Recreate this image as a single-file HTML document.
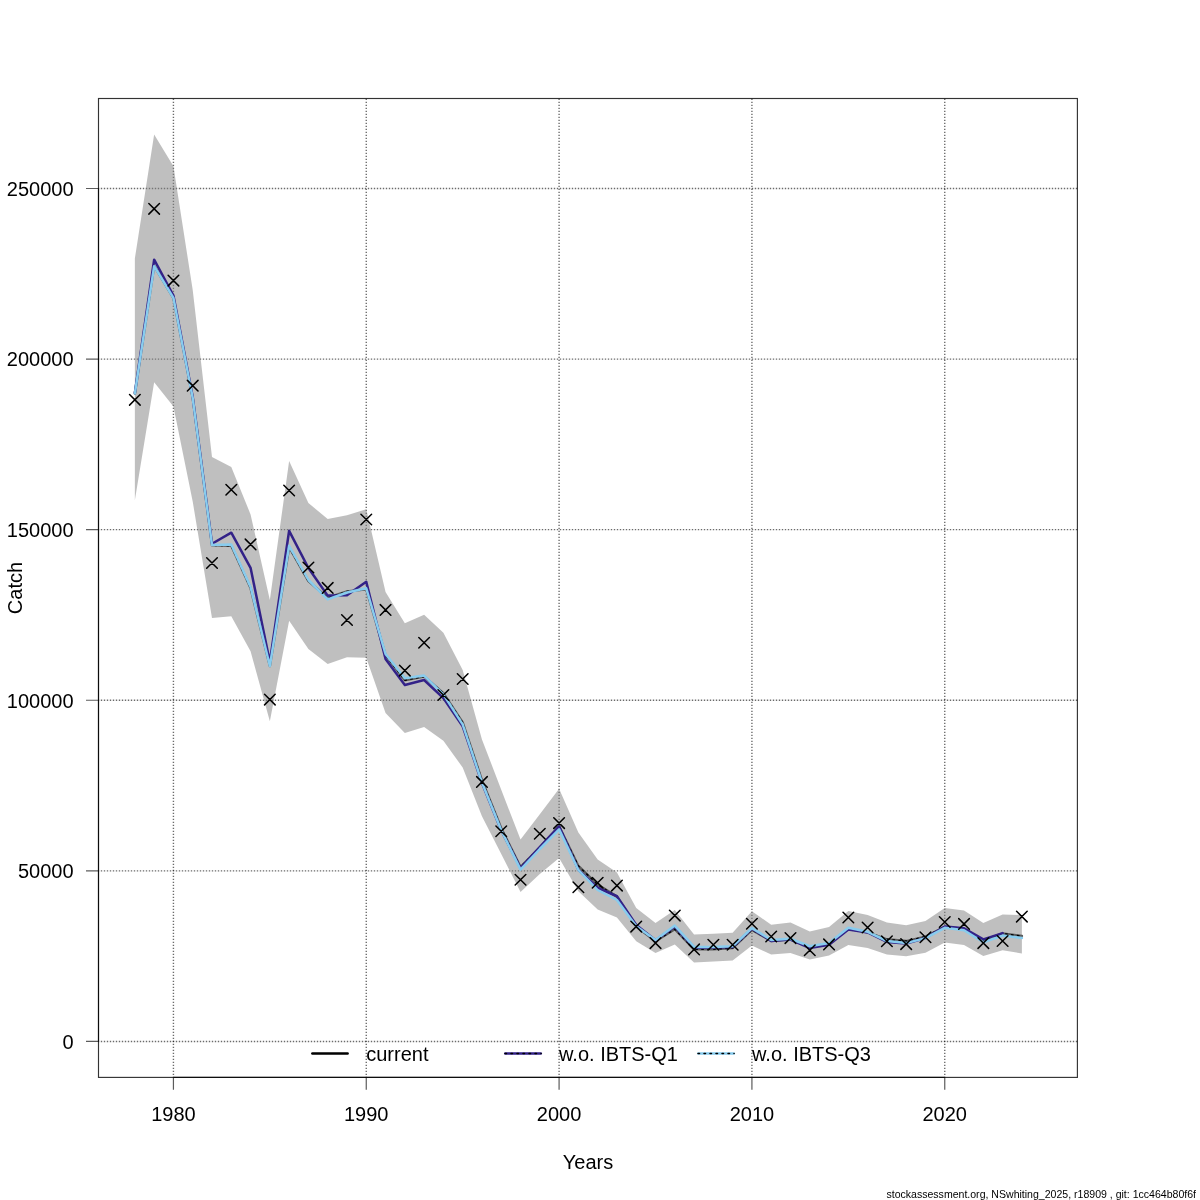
<!DOCTYPE html>
<html><head><meta charset="utf-8"><title>Catch</title>
<style>
html,body{margin:0;padding:0;background:#fff;}
svg{display:block;position:absolute;left:0;top:0;will-change:transform;}
text{font-family:"Liberation Sans",sans-serif;font-size:20px;fill:#000;}
.ft{font-size:10.55px;}
.g{stroke:#000;stroke-opacity:0.58;stroke-width:1.4;stroke-dasharray:1.4 1.6;stroke-dashoffset:0.7;fill:none;}
.ln{fill:none;stroke-width:2.5;stroke-linecap:round;stroke-linejoin:round;}
.ld{fill:none;stroke:#000;stroke-width:1.5;stroke-dasharray:1.5 4.5;stroke-linecap:round;stroke-linejoin:round;}
.cr{fill:none;stroke:#000;stroke-width:1.5;stroke-linecap:round;}
.bx{fill:none;stroke:#000;stroke-opacity:0.8;stroke-width:1.15;}
.tk{fill:none;stroke:#000;stroke-opacity:0.64;stroke-width:1.2;}
.ax{fill:none;stroke:#000;stroke-opacity:0.75;stroke-width:1.15;}
</style></head><body>
<svg width="1200" height="1200" viewBox="0 0 1200 1200">
<rect width="1200" height="1200" fill="#fff"/>
<line x1="173.43" y1="1077.4" x2="173.43" y2="98.5" class="g"/>
<line x1="366.26" y1="1077.4" x2="366.26" y2="98.5" class="g"/>
<line x1="559.09" y1="1077.4" x2="559.09" y2="98.5" class="g"/>
<line x1="751.92" y1="1077.4" x2="751.92" y2="98.5" class="g"/>
<line x1="944.75" y1="1077.4" x2="944.75" y2="98.5" class="g"/>
<line x1="98.5" y1="1041.43" x2="1077.4" y2="1041.43" class="g"/>
<line x1="98.5" y1="870.84" x2="1077.4" y2="870.84" class="g"/>
<line x1="98.5" y1="700.26" x2="1077.4" y2="700.26" class="g"/>
<line x1="98.5" y1="529.67" x2="1077.4" y2="529.67" class="g"/>
<line x1="98.5" y1="359.09" x2="1077.4" y2="359.09" class="g"/>
<line x1="98.5" y1="188.50" x2="1077.4" y2="188.50" class="g"/>
<polygon points="134.86,258.50 154.15,134.40 173.43,166.25 192.71,290.00 212.00,457.00 231.28,467.00 250.56,514.40 269.85,600.00 289.13,461.00 308.41,503.10 327.69,518.90 346.98,515.25 366.26,509.20 385.54,591.90 404.83,623.20 424.11,614.70 443.39,632.80 462.68,670.00 481.96,739.40 501.24,789.75 520.52,839.60 539.81,814.20 559.09,788.75 578.37,832.50 597.66,859.40 616.94,872.50 636.22,908.10 655.51,923.10 674.79,910.00 694.07,934.40 713.35,933.75 732.64,932.75 751.92,911.25 771.20,924.75 790.49,922.50 809.77,931.50 829.05,926.90 848.34,911.00 867.62,915.00 886.90,922.50 906.18,925.25 925.47,920.90 944.75,907.90 964.03,910.60 983.32,923.10 1002.60,914.40 1021.88,915.00 1021.88,953.50 1002.60,950.25 983.32,956.00 964.03,945.00 944.75,942.60 925.47,952.75 906.18,956.25 886.90,954.40 867.62,948.10 848.34,945.10 829.05,955.60 809.77,959.60 790.49,953.10 771.20,954.60 751.92,945.60 732.64,960.50 713.35,961.50 694.07,962.50 674.79,944.40 655.51,953.10 636.22,941.25 616.94,917.50 597.66,909.40 578.37,891.25 559.09,858.10 539.81,874.00 520.52,892.00 501.24,854.00 481.96,816.25 462.68,767.50 443.39,740.80 424.11,727.10 404.83,733.10 385.54,713.00 366.26,657.70 346.98,657.20 327.69,664.00 308.41,649.00 289.13,620.80 269.85,721.25 250.56,651.25 231.28,616.25 212.00,618.00 192.71,501.50 173.43,406.50 154.15,382.20 134.86,500.30" fill="#7f7f7f" fill-opacity="0.5"/>
<polyline points="134.86,393.50 154.15,265.90 173.43,298.00 192.71,398.00 212.00,545.30 231.28,545.80 250.56,588.10 269.85,666.00 289.13,547.20 308.41,581.10 327.69,597.80 346.98,591.50 366.26,589.20 385.54,655.10 404.83,680.30 424.11,676.40 443.39,693.10 462.68,722.50 481.96,780.30 501.24,828.30 520.52,867.10 539.81,847.30 559.09,826.40 578.37,866.00 597.66,884.60 616.94,896.60 636.22,926.55 655.51,941.20 674.79,929.20 694.07,949.30 713.35,949.20 732.64,948.00 751.92,929.80 771.20,941.00 790.49,939.35 809.77,947.05 829.05,943.60 848.34,928.80 867.62,932.30 886.90,939.30 906.18,941.10 925.47,936.60 944.75,926.80 964.03,928.95 983.32,940.50 1002.60,933.50 1021.88,936.10" class="ln" stroke="#5c5c5c"/>
<polyline points="134.86,393.50 154.15,265.90 173.43,298.00 192.71,398.00 212.00,545.30 231.28,545.80 250.56,588.10 269.85,666.00 289.13,547.20 308.41,581.10 327.69,597.80 346.98,591.50 366.26,589.20 385.54,655.10 404.83,680.30 424.11,676.40 443.39,693.10 462.68,722.50 481.96,780.30 501.24,828.30 520.52,867.10 539.81,847.30 559.09,826.40 578.37,866.00 597.66,884.60 616.94,896.60 636.22,926.55 655.51,941.20 674.79,929.20 694.07,949.30 713.35,949.20 732.64,948.00 751.92,929.80 771.20,941.00 790.49,939.35 809.77,947.05 829.05,943.60 848.34,928.80 867.62,932.30 886.90,939.30 906.18,941.10 925.47,936.60 944.75,926.80 964.03,928.95 983.32,940.50 1002.60,933.50 1021.88,936.10" class="ld"/>
<polyline points="134.86,393.00 154.15,259.70 173.43,295.50 192.71,397.00 212.00,543.75 231.28,532.70 250.56,567.80 269.85,662.00 289.13,530.80 308.41,568.00 327.69,595.60 346.98,595.25 366.26,581.80 385.54,659.00 404.83,685.00 424.11,680.00 443.39,698.10 462.68,726.25 481.96,783.00 501.24,830.50 520.52,868.00 539.81,847.00 559.09,826.30 578.37,869.80 597.66,887.75 616.94,896.25 636.22,925.00 655.51,940.30 674.79,926.60 694.07,947.70 713.35,947.50 732.64,947.00 751.92,928.60 771.20,941.00 790.49,939.50 809.77,948.00 829.05,944.75 848.34,929.40 867.62,932.50 886.90,942.00 906.18,943.50 925.47,938.00 944.75,926.50 964.03,928.30 983.32,939.40 1002.60,933.10" class="ln" stroke="#332288"/>
<polyline points="134.86,393.50 154.15,266.20 173.43,298.00 192.71,398.00 212.00,545.00 231.28,544.50 250.56,587.00 269.85,666.00 289.13,545.80 308.41,580.00 327.69,599.40 346.98,592.50 366.26,588.30 385.54,654.00 404.83,678.30 424.11,675.60 443.39,694.40 462.68,724.40 481.96,782.50 501.24,830.30 520.52,869.60 539.81,849.00 559.09,829.40 578.37,870.00 597.66,890.00 616.94,900.00 636.22,926.25 655.51,940.00 674.79,925.60 694.07,946.90 713.35,946.90 732.64,946.25 751.92,928.10 771.20,940.00 790.49,938.75 809.77,946.25 829.05,943.10 848.34,927.80 867.62,931.80 886.90,941.00 906.18,943.10 925.47,938.10 944.75,927.80 964.03,930.25 983.32,942.20 1002.60,935.60 1021.88,938.10" class="ln" stroke="#88ccee"/>
<path d="M129.56,394.50L140.16,405.10M129.56,405.10L140.16,394.50M148.85,203.50L159.45,214.10M148.85,214.10L159.45,203.50M168.13,275.30L178.73,285.90M168.13,285.90L178.73,275.30M187.41,380.40L198.01,391.00M187.41,391.00L198.01,380.40M206.70,557.70L217.30,568.30M206.70,568.30L217.30,557.70M225.98,484.45L236.58,495.05M225.98,495.05L236.58,484.45M245.26,539.10L255.86,549.70M245.26,549.70L255.86,539.10M264.55,694.30L275.15,704.90M264.55,704.90L275.15,694.30M283.83,485.20L294.43,495.80M283.83,495.80L294.43,485.20M303.11,562.20L313.71,572.80M303.11,572.80L313.71,562.20M322.39,582.60L332.99,593.20M322.39,593.20L332.99,582.60M341.68,614.70L352.28,625.30M341.68,625.30L352.28,614.70M360.96,514.20L371.56,524.80M360.96,524.80L371.56,514.20M380.24,604.60L390.84,615.20M380.24,615.20L390.84,604.60M399.53,665.30L410.13,675.90M399.53,675.90L410.13,665.30M418.81,637.45L429.41,648.05M418.81,648.05L429.41,637.45M438.09,689.70L448.69,700.30M438.09,700.30L448.69,689.70M457.38,673.70L467.98,684.30M457.38,684.30L467.98,673.70M476.66,776.60L487.26,787.20M476.66,787.20L487.26,776.60M495.94,825.95L506.54,836.55M495.94,836.55L506.54,825.95M515.22,874.45L525.82,885.05M515.22,885.05L525.82,874.45M534.51,828.45L545.11,839.05M534.51,839.05L545.11,828.45M553.79,817.80L564.39,828.40M553.79,828.40L564.39,817.80M573.07,881.95L583.67,892.55M573.07,892.55L583.67,881.95M592.36,877.45L602.96,888.05M592.36,888.05L602.96,877.45M611.64,880.30L622.24,890.90M611.64,890.90L622.24,880.30M630.92,921.30L641.52,931.90M630.92,931.90L641.52,921.30M650.21,937.80L660.81,948.40M650.21,948.40L660.81,937.80M669.49,910.30L680.09,920.90M669.49,920.90L680.09,910.30M688.77,944.10L699.37,954.70M688.77,954.70L699.37,944.10M708.05,939.45L718.65,950.05M708.05,950.05L718.65,939.45M727.34,939.45L737.94,950.05M727.34,950.05L737.94,939.45M746.62,918.45L757.22,929.05M746.62,929.05L757.22,918.45M765.90,931.20L776.50,941.80M765.90,941.80L776.50,931.20M785.19,932.80L795.79,943.40M785.19,943.40L795.79,932.80M804.47,944.95L815.07,955.55M804.47,955.55L815.07,944.95M823.75,939.10L834.35,949.70M823.75,949.70L834.35,939.10M843.04,912.20L853.63,922.80M843.04,922.80L853.63,912.20M862.32,922.20L872.92,932.80M862.32,932.80L872.92,922.20M881.60,935.95L892.20,946.55M881.60,946.55L892.20,935.95M900.88,938.80L911.48,949.40M900.88,949.40L911.48,938.80M920.17,931.95L930.77,942.55M920.17,942.55L930.77,931.95M939.45,916.70L950.05,927.30M939.45,927.30L950.05,916.70M958.73,918.60L969.33,929.20M958.73,929.20L969.33,918.60M978.02,937.80L988.62,948.40M978.02,948.40L988.62,937.80M997.30,935.70L1007.90,946.30M997.30,946.30L1007.90,935.70M1016.58,911.30L1027.18,921.90M1016.58,921.90L1027.18,911.30" class="cr"/>
<rect x="98.5" y="98.5" width="978.9000000000001" height="978.9000000000001" class="bx"/>
<path d="M173.43,1077.4V1089.8000000000002M366.26,1077.4V1089.8000000000002M559.09,1077.4V1089.8000000000002M751.92,1077.4V1089.8000000000002M944.75,1077.4V1089.8000000000002M98.5,1041.43H86.0M98.5,870.84H86.0M98.5,700.26H86.0M98.5,529.67H86.0M98.5,359.09H86.0M98.5,188.50H86.0" class="tk"/>
<path d="M173.43,1077.4H944.75M98.5,1041.43V188.50" class="ax"/>
<text x="173.43" y="1120.7" text-anchor="middle">1980</text>
<text x="366.26" y="1120.7" text-anchor="middle">1990</text>
<text x="559.09" y="1120.7" text-anchor="middle">2000</text>
<text x="751.92" y="1120.7" text-anchor="middle">2010</text>
<text x="944.75" y="1120.7" text-anchor="middle">2020</text>
<text x="73.6" y="1048.73" text-anchor="end">0</text>
<text x="73.6" y="878.14" text-anchor="end">50000</text>
<text x="73.6" y="707.56" text-anchor="end">100000</text>
<text x="73.6" y="536.97" text-anchor="end">150000</text>
<text x="73.6" y="366.39" text-anchor="end">200000</text>
<text x="73.6" y="195.80" text-anchor="end">250000</text>
<text x="588" y="1168.9" text-anchor="middle">Years</text>
<text transform="translate(22,588) rotate(-90)" text-anchor="middle">Catch</text>
<line x1="312.35" y1="1053.4" x2="347.6" y2="1053.4" class="ln" stroke="#000"/>
<line x1="505.25" y1="1053.4" x2="540.75" y2="1053.4" class="ln" stroke="#332288"/>
<line x1="505.0" y1="1053.4" x2="541.1" y2="1053.4" class="ld"/>
<line x1="698.25" y1="1053.4" x2="733.75" y2="1053.4" class="ln" stroke="#88ccee"/>
<line x1="698.0" y1="1053.4" x2="734.1" y2="1053.4" class="ld"/>
<text x="366.2" y="1060.8">current</text>
<text x="559" y="1060.8">w.o. IBTS-Q1</text>
<text x="752" y="1060.8">w.o. IBTS-Q3</text>
<text x="1196" y="1197.6" text-anchor="end" class="ft">stockassessment.org, NSwhiting_2025, r18909 , git: 1cc464b80f6f</text>
</svg>
</body></html>
